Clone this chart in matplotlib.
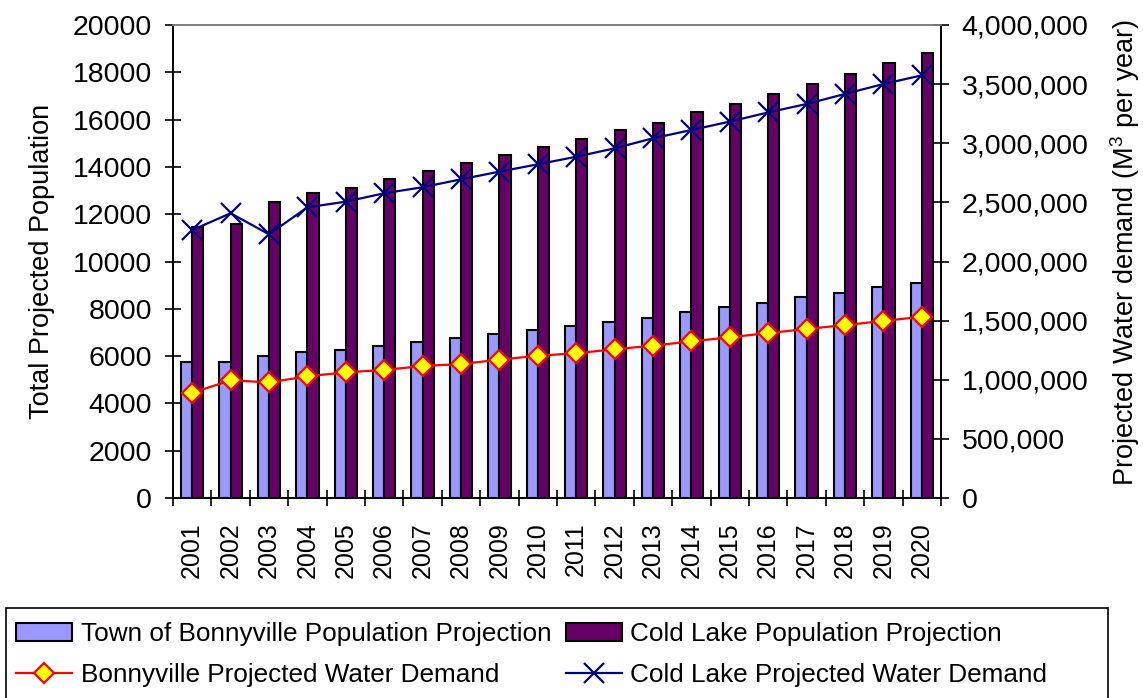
import numpy as np
import matplotlib
matplotlib.use("Agg")
import matplotlib.pyplot as plt
from matplotlib.lines import Line2D
from matplotlib.patches import Patch, Rectangle

plt.rcParams['font.family'] = ['Liberation Sans', 'DejaVu Sans']
plt.rcParams['mathtext.fontset'] = 'custom'
plt.rcParams['mathtext.rm'] = 'Liberation Sans'
plt.rcParams['mathtext.default'] = 'regular'

years = ['2001', '2002', '2003', '2004', '2005', '2006', '2007', '2008', '2009', '2010',
         '2011', '2012', '2013', '2014', '2015', '2016', '2017', '2018', '2019', '2020']

bonnyville_pop = [5740, 5740, 5990, 6160, 6260, 6430, 6600, 6770, 6950, 7100,
                  7290, 7460, 7630, 7880, 8060, 8230, 8500, 8650, 8920, 9090]
cold_lake_pop = [11470, 11590, 12530, 12880, 13120, 13480, 13830, 14170, 14500, 14860,
                 15190, 15550, 15870, 16310, 16650, 17070, 17510, 17940, 18380, 18800]

bonnyville_water = [890000, 995000, 978000, 1029000, 1063000, 1083000, 1116000, 1133000,
                    1170000, 1203000, 1224000, 1258000, 1288000, 1325000, 1359000,
                    1395000, 1429000, 1463000, 1497000, 1533000]
cold_lake_water = [2266000, 2408000, 2230000, 2458000, 2506000, 2577000, 2628000, 2695000,
                   2760000, 2822000, 2886000, 2957000, 3042000, 3112000, 3183000,
                   3261000, 3332000, 3417000, 3501000, 3574000]

pop_ticks = [0, 2000, 4000, 6000, 8000, 10000, 12000, 14000, 16000, 18000, 20000]
water_ticks = [0, 500000, 1000000, 1500000, 2000000, 2500000, 3000000, 3500000, 4000000]

W, H = 1143, 698
fig = plt.figure(figsize=(W / 100, H / 100), dpi=100)
ax = fig.add_axes([173 / W, 1 - 498 / H, (941 - 173) / W, (498 - 25) / H])

x = np.arange(len(years))
bw = 0.29
ax.bar(x - bw / 2, bonnyville_pop, bw, color='#9999FF', edgecolor='black', linewidth=1.5,
       zorder=2)
ax.bar(x + bw / 2, cold_lake_pop, bw, color='#660066', edgecolor='black', linewidth=1.5,
       zorder=2)

ax.set_xlim(-0.5, len(years) - 0.5)
ax.set_ylim(0, 20000)
ax.set_yticks(pop_ticks)
ax.set_yticklabels([str(v) for v in pop_ticks], fontsize=20.5)
ax.set_xticks(np.arange(-0.5, len(years), 1.0))
ax.set_xticklabels([])
ax.set_xticks(x, minor=True)
ax.set_xticklabels(years, minor=True, rotation=90, fontsize=18)
ax.tick_params(axis='x', which='major', direction='inout', length=12, width=1.2)
ax.tick_params(axis='x', which='minor', length=0, pad=17.5)
ax.tick_params(axis='y', direction='inout', length=12, width=1.2, pad=9)
ax.set_ylabel('Total Projected Population', fontsize=19.5)
ax.yaxis.set_label_coords(-(173 - 55) / 768, 0.5)

for side in ('left', 'bottom', 'right'):
    ax.spines[side].set_color('black')
    ax.spines[side].set_linewidth(1.3)
ax.spines['top'].set_color('#808080')
ax.spines['top'].set_linewidth(1.3)

ax2 = ax.twinx()
ax2.plot(x, bonnyville_water, color='#FF0000', linewidth=1.6, marker='D', markersize=10,
         markerfacecolor='#FFFF00', markeredgecolor='#FF0000', markeredgewidth=1.6, zorder=3)
ax2.plot(x, cold_lake_water, color='#000080', linewidth=1.6, marker='x', markersize=15,
         markeredgewidth=1.6, zorder=3)
ax2.set_ylim(0, 4000000)
ax2.set_yticks(water_ticks)
ax2.set_yticklabels([f'{v:,}' for v in water_ticks], fontsize=20.5)
ax2.tick_params(axis='y', direction='inout', length=12, width=1.2, pad=9)
ax2.set_ylabel('Projected Water demand (M$^{3}$ per year)', fontsize=19.5)
ax2.yaxis.set_label_coords(1 + (1108 - 941) / 768, 0.52)
for side in ('left', 'bottom', 'right'):
    ax2.spines[side].set_color('black')
    ax2.spines[side].set_linewidth(1.3)
ax2.spines['top'].set_color('#808080')
ax2.spines['top'].set_linewidth(1.3)

# legend frame runs past the bottom edge of the figure
fig.patches.append(Rectangle((6 / W, -0.05), (1108 - 6) / W, 0.05 + (698 - 608) / H,
                             transform=fig.transFigure, facecolor='white',
                             edgecolor='black', linewidth=1.2, zorder=0))

handles = [
    Patch(facecolor='#9999FF', edgecolor='black', linewidth=1.5),
    Line2D([], [], color='#FF0000', linewidth=1.6, marker='D', markersize=10,
           markerfacecolor='#FFFF00', markeredgecolor='#FF0000', markeredgewidth=1.6),
    Patch(facecolor='#660066', edgecolor='black', linewidth=1.5),
    Line2D([], [], color='#000080', linewidth=1.6, marker='x', markersize=15,
           markeredgewidth=1.6),
]
labels = ['Town of Bonnyville Population Projection', 'Bonnyville Projected Water Demand',
          'Cold Lake Population Projection', 'Cold Lake Projected Water Demand']
leg = fig.legend(handles, labels, ncol=2, loc='upper left',
                 bbox_to_anchor=(16 / W, 1 - 622 / H), fontsize=18.8, frameon=False,
                 handlelength=2.15, handletextpad=0.33, columnspacing=0.55,
                 labelspacing=0.64, borderpad=0, borderaxespad=0)

fig.savefig('out.png', dpi=100)
